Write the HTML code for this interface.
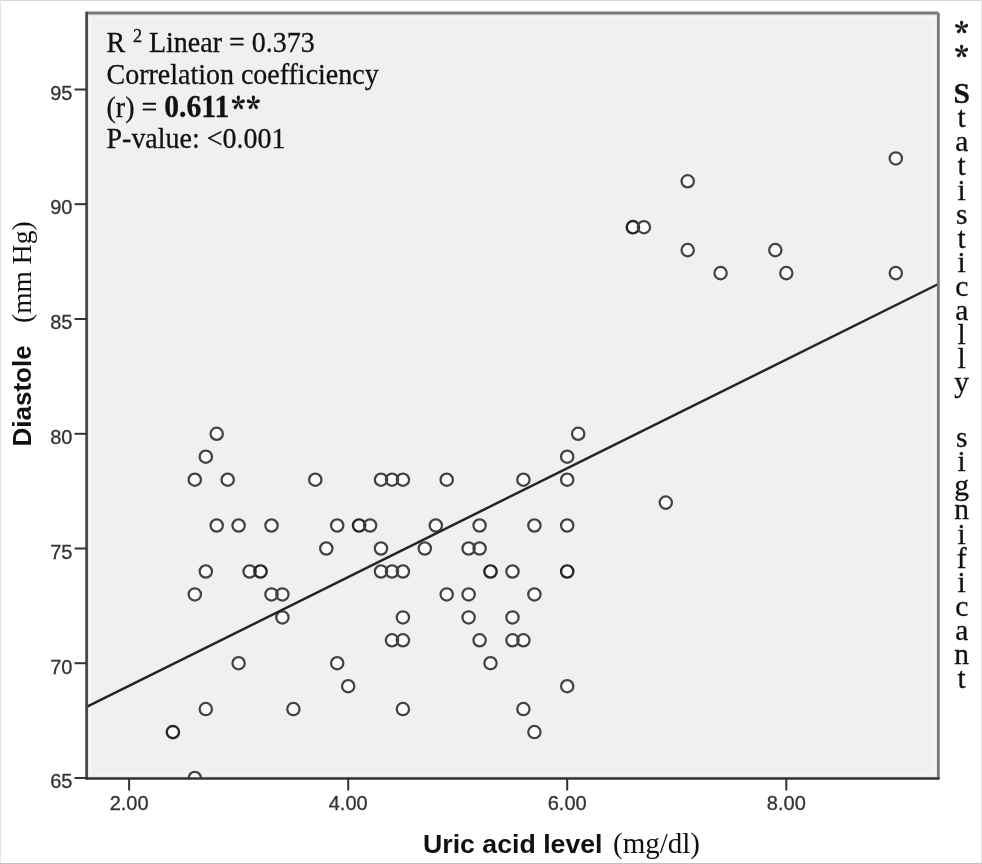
<!DOCTYPE html>
<html><head><meta charset="utf-8"><title>Scatter plot</title>
<style>
html,body{margin:0;padding:0;background:#fff;}
svg{display:block;filter:grayscale(1);}
.sans{font-family:"Liberation Sans",Arial,sans-serif;}
.serif{font-family:"Liberation Serif","Times New Roman",serif;}
.ast{font-family:"Noto Serif CJK SC","Liberation Serif",serif;}
</style></head>
<body>
<svg width="982" height="864" viewBox="0 0 982 864">
<rect x="0" y="0" width="982" height="864" fill="#fff"/>
<!-- outer border -->
<rect x="0" y="0" width="982" height="1" fill="#d6d6d6"/>
<rect x="0" y="0" width="1" height="864" fill="#e3e3e3"/>
<rect x="981" y="0" width="1" height="864" fill="#e6e6e6"/>
<rect x="0" y="863" width="982" height="1" fill="#c2c2c2"/>
<!-- plot area -->
<rect x="86.6" y="13.0" width="851.8" height="765.4" fill="#ebebeb"/>
<rect x="89.6" y="16.6" width="845.8" height="758.8" fill="#fafafa"/>
<rect x="90.89999999999999" y="18.0" width="843.1999999999999" height="756.1" fill="#f0f0f0"/>
<defs><clipPath id="pa"><rect x="86.6" y="13.0" width="851.8" height="765.4"/></clipPath></defs>
<g clip-path="url(#pa)">
<g fill="#fbfbfb">
<circle cx="895.8" cy="158.4" r="6.45"/>
<circle cx="687.7" cy="181.3" r="6.45"/>
<circle cx="632.9" cy="227.2" r="6.45"/>
<circle cx="643.9" cy="227.2" r="6.45"/>
<circle cx="687.7" cy="250.1" r="6.45"/>
<circle cx="775.3" cy="250.1" r="6.45"/>
<circle cx="720.6" cy="273.1" r="6.45"/>
<circle cx="786.3" cy="273.1" r="6.45"/>
<circle cx="895.8" cy="273.1" r="6.45"/>
<circle cx="216.7" cy="433.8" r="6.45"/>
<circle cx="578.2" cy="433.8" r="6.45"/>
<circle cx="205.8" cy="456.7" r="6.45"/>
<circle cx="567.2" cy="456.7" r="6.45"/>
<circle cx="194.8" cy="479.7" r="6.45"/>
<circle cx="227.7" cy="479.7" r="6.45"/>
<circle cx="315.3" cy="479.7" r="6.45"/>
<circle cx="381.0" cy="479.7" r="6.45"/>
<circle cx="392.0" cy="479.7" r="6.45"/>
<circle cx="402.9" cy="479.7" r="6.45"/>
<circle cx="446.7" cy="479.7" r="6.45"/>
<circle cx="523.4" cy="479.7" r="6.45"/>
<circle cx="567.2" cy="479.7" r="6.45"/>
<circle cx="665.8" cy="502.6" r="6.45"/>
<circle cx="216.7" cy="525.5" r="6.45"/>
<circle cx="238.6" cy="525.5" r="6.45"/>
<circle cx="271.5" cy="525.5" r="6.45"/>
<circle cx="337.2" cy="525.5" r="6.45"/>
<circle cx="359.1" cy="525.5" r="6.45"/>
<circle cx="370.1" cy="525.5" r="6.45"/>
<circle cx="435.8" cy="525.5" r="6.45"/>
<circle cx="479.6" cy="525.5" r="6.45"/>
<circle cx="534.4" cy="525.5" r="6.45"/>
<circle cx="567.2" cy="525.5" r="6.45"/>
<circle cx="326.3" cy="548.5" r="6.45"/>
<circle cx="381.0" cy="548.5" r="6.45"/>
<circle cx="424.8" cy="548.5" r="6.45"/>
<circle cx="468.6" cy="548.5" r="6.45"/>
<circle cx="479.6" cy="548.5" r="6.45"/>
<circle cx="205.8" cy="571.5" r="6.45"/>
<circle cx="249.6" cy="571.5" r="6.45"/>
<circle cx="260.5" cy="571.5" r="6.45"/>
<circle cx="381.0" cy="571.5" r="6.45"/>
<circle cx="392.0" cy="571.5" r="6.45"/>
<circle cx="402.9" cy="571.5" r="6.45"/>
<circle cx="490.5" cy="571.5" r="6.45"/>
<circle cx="512.5" cy="571.5" r="6.45"/>
<circle cx="567.2" cy="571.5" r="6.45"/>
<circle cx="194.8" cy="594.4" r="6.45"/>
<circle cx="271.5" cy="594.4" r="6.45"/>
<circle cx="282.4" cy="594.4" r="6.45"/>
<circle cx="446.7" cy="594.4" r="6.45"/>
<circle cx="468.6" cy="594.4" r="6.45"/>
<circle cx="534.4" cy="594.4" r="6.45"/>
<circle cx="282.4" cy="617.4" r="6.45"/>
<circle cx="402.9" cy="617.4" r="6.45"/>
<circle cx="468.6" cy="617.4" r="6.45"/>
<circle cx="512.5" cy="617.4" r="6.45"/>
<circle cx="392.0" cy="640.3" r="6.45"/>
<circle cx="402.9" cy="640.3" r="6.45"/>
<circle cx="479.6" cy="640.3" r="6.45"/>
<circle cx="512.5" cy="640.3" r="6.45"/>
<circle cx="523.4" cy="640.3" r="6.45"/>
<circle cx="238.6" cy="663.2" r="6.45"/>
<circle cx="337.2" cy="663.2" r="6.45"/>
<circle cx="490.5" cy="663.2" r="6.45"/>
<circle cx="348.2" cy="686.2" r="6.45"/>
<circle cx="567.2" cy="686.2" r="6.45"/>
<circle cx="205.8" cy="709.1" r="6.45"/>
<circle cx="293.4" cy="709.1" r="6.45"/>
<circle cx="402.9" cy="709.1" r="6.45"/>
<circle cx="523.4" cy="709.1" r="6.45"/>
<circle cx="172.9" cy="732.1" r="6.45"/>
<circle cx="534.4" cy="732.1" r="6.45"/>
<circle cx="194.8" cy="778.0" r="6.45"/>
</g>
<g fill="none" stroke="#424242" stroke-width="2.25">
<circle cx="895.8" cy="158.4" r="6.15"/>
<circle cx="687.7" cy="181.3" r="6.15"/>
<circle cx="632.9" cy="227.2" r="6.15" stroke-width="2.4" stroke="#262626"/>
<circle cx="643.9" cy="227.2" r="6.15"/>
<circle cx="687.7" cy="250.1" r="6.15"/>
<circle cx="775.3" cy="250.1" r="6.15"/>
<circle cx="720.6" cy="273.1" r="6.15"/>
<circle cx="786.3" cy="273.1" r="6.15"/>
<circle cx="895.8" cy="273.1" r="6.15"/>
<circle cx="216.7" cy="433.8" r="6.15"/>
<circle cx="578.2" cy="433.8" r="6.15"/>
<circle cx="205.8" cy="456.7" r="6.15"/>
<circle cx="567.2" cy="456.7" r="6.15"/>
<circle cx="194.8" cy="479.7" r="6.15"/>
<circle cx="227.7" cy="479.7" r="6.15"/>
<circle cx="315.3" cy="479.7" r="6.15"/>
<circle cx="381.0" cy="479.7" r="6.15"/>
<circle cx="392.0" cy="479.7" r="6.15"/>
<circle cx="402.9" cy="479.7" r="6.15"/>
<circle cx="446.7" cy="479.7" r="6.15"/>
<circle cx="523.4" cy="479.7" r="6.15"/>
<circle cx="567.2" cy="479.7" r="6.15"/>
<circle cx="665.8" cy="502.6" r="6.15"/>
<circle cx="216.7" cy="525.5" r="6.15"/>
<circle cx="238.6" cy="525.5" r="6.15"/>
<circle cx="271.5" cy="525.5" r="6.15"/>
<circle cx="337.2" cy="525.5" r="6.15"/>
<circle cx="359.1" cy="525.5" r="6.15" stroke-width="2.4" stroke="#262626"/>
<circle cx="370.1" cy="525.5" r="6.15"/>
<circle cx="435.8" cy="525.5" r="6.15"/>
<circle cx="479.6" cy="525.5" r="6.15"/>
<circle cx="534.4" cy="525.5" r="6.15"/>
<circle cx="567.2" cy="525.5" r="6.15"/>
<circle cx="326.3" cy="548.5" r="6.15"/>
<circle cx="381.0" cy="548.5" r="6.15"/>
<circle cx="424.8" cy="548.5" r="6.15"/>
<circle cx="468.6" cy="548.5" r="6.15"/>
<circle cx="479.6" cy="548.5" r="6.15"/>
<circle cx="205.8" cy="571.5" r="6.15"/>
<circle cx="249.6" cy="571.5" r="6.15"/>
<circle cx="260.5" cy="571.5" r="6.15" stroke-width="2.4" stroke="#262626"/>
<circle cx="381.0" cy="571.5" r="6.15"/>
<circle cx="392.0" cy="571.5" r="6.15"/>
<circle cx="402.9" cy="571.5" r="6.15"/>
<circle cx="490.5" cy="571.5" r="6.15" stroke-width="2.4" stroke="#262626"/>
<circle cx="512.5" cy="571.5" r="6.15"/>
<circle cx="567.2" cy="571.5" r="6.15" stroke-width="2.4" stroke="#262626"/>
<circle cx="194.8" cy="594.4" r="6.15"/>
<circle cx="271.5" cy="594.4" r="6.15"/>
<circle cx="282.4" cy="594.4" r="6.15"/>
<circle cx="446.7" cy="594.4" r="6.15"/>
<circle cx="468.6" cy="594.4" r="6.15"/>
<circle cx="534.4" cy="594.4" r="6.15"/>
<circle cx="282.4" cy="617.4" r="6.15"/>
<circle cx="402.9" cy="617.4" r="6.15"/>
<circle cx="468.6" cy="617.4" r="6.15"/>
<circle cx="512.5" cy="617.4" r="6.15"/>
<circle cx="392.0" cy="640.3" r="6.15"/>
<circle cx="402.9" cy="640.3" r="6.15"/>
<circle cx="479.6" cy="640.3" r="6.15"/>
<circle cx="512.5" cy="640.3" r="6.15"/>
<circle cx="523.4" cy="640.3" r="6.15"/>
<circle cx="238.6" cy="663.2" r="6.15"/>
<circle cx="337.2" cy="663.2" r="6.15"/>
<circle cx="490.5" cy="663.2" r="6.15"/>
<circle cx="348.2" cy="686.2" r="6.15"/>
<circle cx="567.2" cy="686.2" r="6.15"/>
<circle cx="205.8" cy="709.1" r="6.15"/>
<circle cx="293.4" cy="709.1" r="6.15"/>
<circle cx="402.9" cy="709.1" r="6.15"/>
<circle cx="523.4" cy="709.1" r="6.15"/>
<circle cx="172.9" cy="732.1" r="6.15" stroke-width="2.4" stroke="#262626"/>
<circle cx="534.4" cy="732.1" r="6.15"/>
<circle cx="194.8" cy="778.0" r="6.15"/>
</g>
<line x1="86.6" y1="706.9" x2="938.4" y2="284.0" stroke="#242424" stroke-width="2.5"/>
</g>
<!-- frame -->
<line x1="86.6" y1="13.0" x2="938.4" y2="13.0" stroke="#787878" stroke-width="2.8"/>
<line x1="938.4" y1="13.0" x2="938.4" y2="778.4" stroke="#777" stroke-width="2.7"/>
<line x1="86.6" y1="11.7" x2="86.6" y2="779.6" stroke="#444" stroke-width="2.7"/>
<line x1="85.39999999999999" y1="778.4" x2="939.6" y2="778.4" stroke="#333" stroke-width="2.5"/>
<g stroke="#333" stroke-width="2">
<line x1="74.5" y1="778.0" x2="86.6" y2="778.0"/>
<line x1="74.5" y1="663.2" x2="86.6" y2="663.2"/>
<line x1="74.5" y1="548.5" x2="86.6" y2="548.5"/>
<line x1="74.5" y1="433.8" x2="86.6" y2="433.8"/>
<line x1="74.5" y1="319.0" x2="86.6" y2="319.0"/>
<line x1="74.5" y1="204.2" x2="86.6" y2="204.2"/>
<line x1="74.5" y1="89.5" x2="86.6" y2="89.5"/>
<line x1="129.1" y1="778.4" x2="129.1" y2="790.5"/>
<line x1="348.2" y1="778.4" x2="348.2" y2="790.5"/>
<line x1="567.2" y1="778.4" x2="567.2" y2="790.5"/>
<line x1="786.3" y1="778.4" x2="786.3" y2="790.5"/>
</g>
<g class="sans" font-size="20" fill="#333" stroke="#333" stroke-width="0.3">
<text x="72.5" y="788.2" text-anchor="end">65</text>
<text x="72.5" y="673.5" text-anchor="end">70</text>
<text x="72.5" y="558.7" text-anchor="end">75</text>
<text x="72.5" y="443.9" text-anchor="end">80</text>
<text x="72.5" y="329.2" text-anchor="end">85</text>
<text x="72.5" y="214.4" text-anchor="end">90</text>
<text x="72.5" y="99.7" text-anchor="end">95</text>
<text x="129.1" y="809.6" text-anchor="middle">2.00</text>
<text x="348.2" y="809.6" text-anchor="middle">4.00</text>
<text x="567.2" y="809.6" text-anchor="middle">6.00</text>
<text x="786.3" y="809.6" text-anchor="middle">8.00</text>
</g>
<!-- annotation -->
<g class="serif" font-size="30" fill="#111" stroke="#111" stroke-width="0.3">
<text transform="translate(106.5,51.8) scale(0.933,1)">R <tspan font-size="19.5" dx="0.8" dy="-10.2">2</tspan><tspan dy="10.2"> Linear = 0.373</tspan></text>
<text transform="translate(106.5,83.8) scale(0.933,1)">Correlation coefficiency</text>
<text transform="translate(106.5,116.6) scale(0.933,1)">(r) = <tspan font-weight="bold" font-size="31.80">0.611</tspan><tspan class="ast" font-weight="900" font-size="30" letter-spacing="1.5" dx="2.3" dy="4">**</tspan></text>
<text transform="translate(106.5,148.2) scale(0.933,1)">P-value: &lt;0.001</text>
</g>
<!-- axis titles -->
<text class="sans" font-weight="bold" font-size="26" fill="#111" transform="translate(30.5,446.5) rotate(-90)">Diastole</text>
<text class="serif" font-size="27.5" fill="#111" transform="translate(30.8,323) rotate(-90)">(mm Hg)</text>
<text class="sans" font-weight="bold" font-size="26.7" fill="#111" x="423" y="853">Uric acid level</text>
<text class="serif" font-size="29" fill="#111" x="613" y="852.5">(mg/dl)</text>
<!-- right vertical text -->
<g class="serif" font-size="29.5" fill="#111" stroke="#111" stroke-width="0.3" text-anchor="middle">
<text class="ast" x="961.5" y="44.2" font-weight="900" font-size="28">*</text>
<text class="ast" x="961.5" y="67.8" font-weight="900" font-size="28">*</text>
<text x="961.7" y="103.1" font-weight="bold" font-size="29.5">S</text>
<text x="961.7" y="127.2">t</text>
<text x="961.7" y="151.3">a</text>
<text x="961.7" y="175.4">t</text>
<text x="961.7" y="199.5">i</text>
<text x="961.7" y="223.6">s</text>
<text x="961.7" y="247.7">t</text>
<text x="961.7" y="271.8">i</text>
<text x="961.7" y="295.9">c</text>
<text x="961.7" y="320.0">a</text>
<text x="961.7" y="344.1">l</text>
<text x="961.7" y="368.2">l</text>
<text x="961.7" y="392.3">y</text>
<text x="961.7" y="447.1">s</text>
<text x="961.7" y="471.2">i</text>
<text x="961.7" y="495.3">g</text>
<text x="961.7" y="519.4">n</text>
<text x="961.7" y="543.5">i</text>
<text x="961.7" y="567.6">f</text>
<text x="961.7" y="591.7">i</text>
<text x="961.7" y="615.8">c</text>
<text x="961.7" y="639.9">a</text>
<text x="961.7" y="664.0">n</text>
<text x="961.7" y="688.1">t</text>
</g>
</svg>
</body></html>
